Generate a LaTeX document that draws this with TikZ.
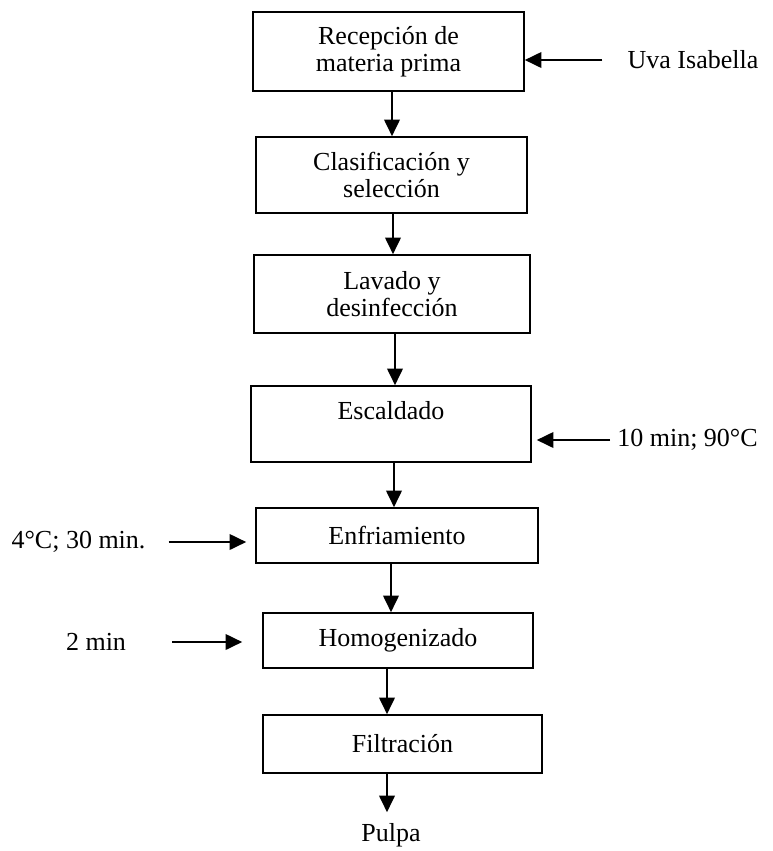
\documentclass[tikz,border=0pt]{standalone}
\usepackage{fontspec}
\setmainfont{Liberation Serif}
\usetikzlibrary{arrows.meta}

\begin{document}
\begin{tikzpicture}[x=0.75pt,y=-0.75pt,font=\fontsize{19.5}{20.5}\selectfont,
  caja/.style={draw,line width=1.1pt,align=center,inner sep=0pt},
  flecha/.style={-{Triangle[length=12.5pt,width=11.5pt]},line width=2pt},
  dato/.style={inner sep=0pt}]

\useasboundingbox (0,0) rectangle (773,851);

\begin{scope}
% etapas del proceso
\node[caja,minimum width=203.25pt,minimum height=59.25pt] (rec) at (388.5,51.5) {Recepción de\\materia prima};
\node[caja,minimum width=203.25pt,minimum height=57pt] (cla) at (391.5,175) {Clasificación y\\selección};
\node[caja,minimum width=207pt,minimum height=58.5pt] (lav) at (392,294) {Lavado y\\desinfección};
\node[caja,minimum width=210pt,minimum height=57pt] (esc) at (391,424) {Escaldado\\\mbox{}};
\node[caja,minimum width=211.5pt,minimum height=41.25pt] (enf) at (397,535.5) {Enfriamiento};
\node[caja,minimum width=202.5pt,minimum height=41.25pt] (hom) at (398,640.5) {Homogenizado};
\node[caja,minimum width=209.25pt,minimum height=43.5pt] (fil) at (402.5,744) {Filtración};
\node[dato] (pul) at (391,835) {Pulpa};

% datos de entrada
\node[dato] (uva) at (693,60) {Uva Isabella};
\node[dato] (tesc) at (687.5,440) {10 min; 90°C};
\node[dato] (tenf) at (78.5,542) {4°C; 30 min.};
\node[dato] (thom) at (96,642) {2 min};

\coordinate (c1) at (392,0);
\coordinate (c2) at (393,0);
\coordinate (c3) at (395,0);
\coordinate (c4) at (394,0);
\coordinate (c5) at (391,0);
\coordinate (c6) at (387,0);

\draw[flecha] (rec.south -| c1) -- (cla.north -| c1);
\draw[flecha] (cla.south -| c2) -- (lav.north -| c2);
\draw[flecha] (lav.south -| c3) -- (esc.north -| c3);
\draw[flecha] (esc.south -| c4) -- (enf.north -| c4);
\draw[flecha] (enf.south -| c5) -- (hom.north -| c5);
\draw[flecha] (hom.south -| c6) -- (fil.north -| c6);
\draw[flecha,shorten >=8pt] (fil.south -| c6) -- (pul.north -| c6);

\draw[flecha,shorten <=18.75pt] (uva.west) -- (uva.west -| rec.east);
\draw[flecha,shorten <=5.25pt,shorten >=3.75pt] (tesc.west) -- (tesc.west -| esc.east);
\draw[flecha,shorten <=17.25pt,shorten >=6.75pt] (tenf.east) -- (tenf.east -| enf.west);
\draw[flecha,shorten <=34.5pt,shorten >=15pt] (thom.east) -- (thom.east -| hom.west);
\end{scope}

\end{tikzpicture}
\end{document}
